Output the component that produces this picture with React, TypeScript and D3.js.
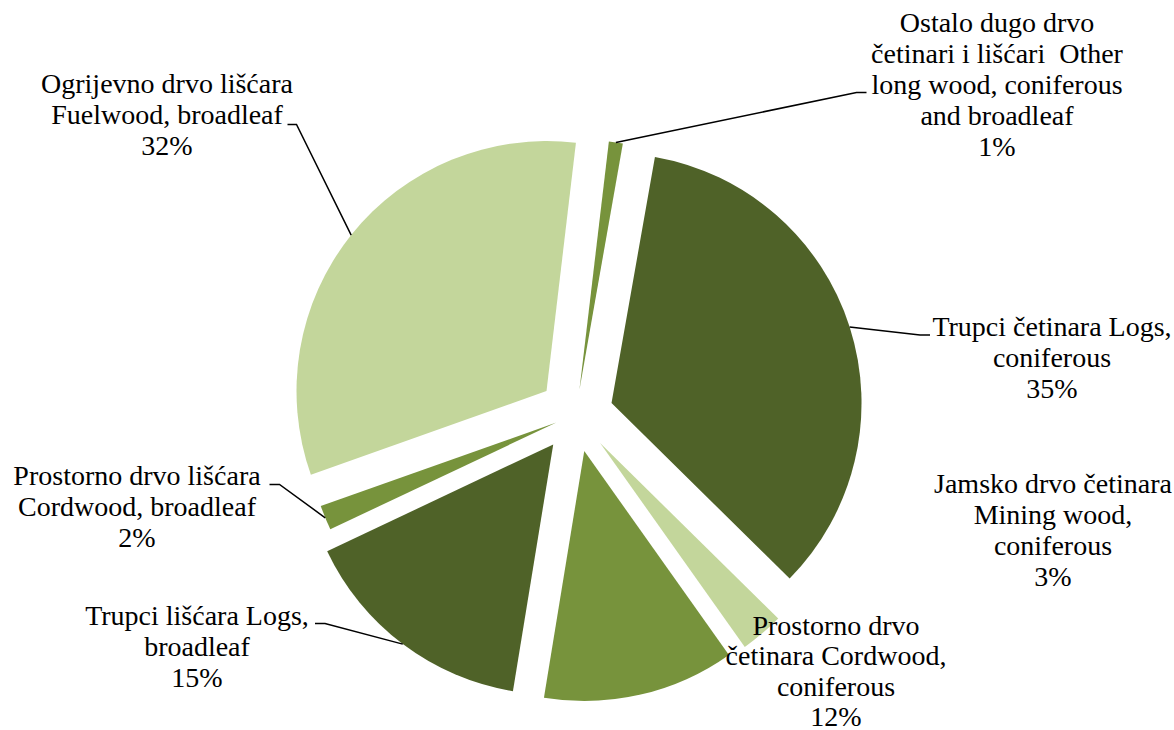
import React from "react";
import * as d3 from "d3";

// ---- data ----
const categories: string[][] = [
  ["Trupci četinara Logs,", "coniferous"],
  ["Jamsko drvo četinara", "Mining wood,", "coniferous"],
  ["Prostorno drvo", "četinara Cordwood,", "coniferous"],
  ["Trupci lišćara Logs,", "broadleaf"],
  ["Prostorno drvo lišćara", "Cordwood, broadleaf"],
  ["Ogrijevno drvo lišćara", "Fuelwood, broadleaf"],
  ["Ostalo dugo drvo", "četinari i lišćari  Other", "long wood, coniferous", "and broadleaf"],
];
const values: number[] = [34.6, 2.8, 12.4, 15.4, 1.6, 32.3, 0.9];
const colors: string[] = ["#4F6228", "#C3D69B", "#77933C", "#4F6228", "#77933C", "#C3D69B", "#77933C"];

// ---- layout ----
const W = 1174;
const H = 730;
const CX = 575.8;
const CY = 414.5;
const R = 250;
const START_DEG = 10;
const explode: number[] = [37.5, 37.5, 37.5, 37.5, 21, 37.5, 25];
// label centre x, first baseline y, line height
const labelPos: [number, number, number][] = [
  [1052, 336, 31],
  [1053, 493, 31],
  [836, 634.5, 30.6],
  [197, 625, 31],
  [137, 485, 31],
  [167, 93, 31],
  [997, 31.5, 31],
];
// leader: [anchor x, anchor y, elbow x] or null
const leaders: ([number, number, number] | null)[] = [
  [930, 335, 920],
  null,
  null,
  [315, 623.5, 325],
  [269.5, 484.5, 279.5],
  [287.5, 124.5, 296.5],
  [866.5, 92.5, 856.5],
];
const FONT = "'Liberation Serif', 'Times New Roman', serif";
const FONT_SIZE = 28;

export default function App() {
  const total = d3.sum(values);
  const start = (START_DEG * Math.PI) / 180;
  const pie = d3
    .pie<number>()
    .sort(null)
    .value((d) => d)
    .startAngle(start)
    .endAngle(start + 2 * Math.PI);
  const arcs = pie(values);
  const arcGen = d3.arc<d3.PieArcDatum<number>>().innerRadius(0).outerRadius(R);
  const pct = d3.format(".0%");

  return (
    <svg
      width={W}
      height={H}
      viewBox={`0 0 ${W} ${H}`}
      style={{ position: "absolute", left: 0, top: 0, display: "block", background: "#fff" }}
    >
      <g transform={`translate(${CX},${CY})`}>
        {arcs.map((a, i) => {
          const mid = (a.startAngle + a.endAngle) / 2;
          const dx = explode[i] * Math.sin(mid);
          const dy = -explode[i] * Math.cos(mid);
          return (
            <path
              key={i}
              d={arcGen(a) || ""}
              fill={colors[i]}
              transform={`translate(${dx},${dy})`}
            />
          );
        })}
      </g>
      {arcs.map((a, i) => {
        const L = leaders[i];
        if (!L) return null;
        const mid = (a.startAngle + a.endAngle) / 2;
        const ex = CX + (explode[i] + R) * Math.sin(mid);
        const ey = CY - (explode[i] + R) * Math.cos(mid);
        return (
          <polyline
            key={"l" + i}
            points={`${L[0]},${L[1]} ${L[2]},${L[1]} ${ex},${ey}`}
            fill="none"
            stroke="#000"
            strokeWidth={1.5}
          />
        );
      })}
      {arcs.map((a, i) => {
        const [x, y, lh] = labelPos[i];
        const lines = [...categories[i], pct(values[i] / total)];
        return (
          <text
            key={"t" + i}
            x={x}
            y={y}
            textAnchor="middle"
            fontFamily={FONT}
            fontSize={FONT_SIZE}
            fill="#000"
          >
            {lines.map((ln, j) => (
              <tspan key={j} x={x} y={y + j * lh} style={{ whiteSpace: "pre" }}>
                {ln}
              </tspan>
            ))}
          </text>
        );
      })}
    </svg>
  );
}
